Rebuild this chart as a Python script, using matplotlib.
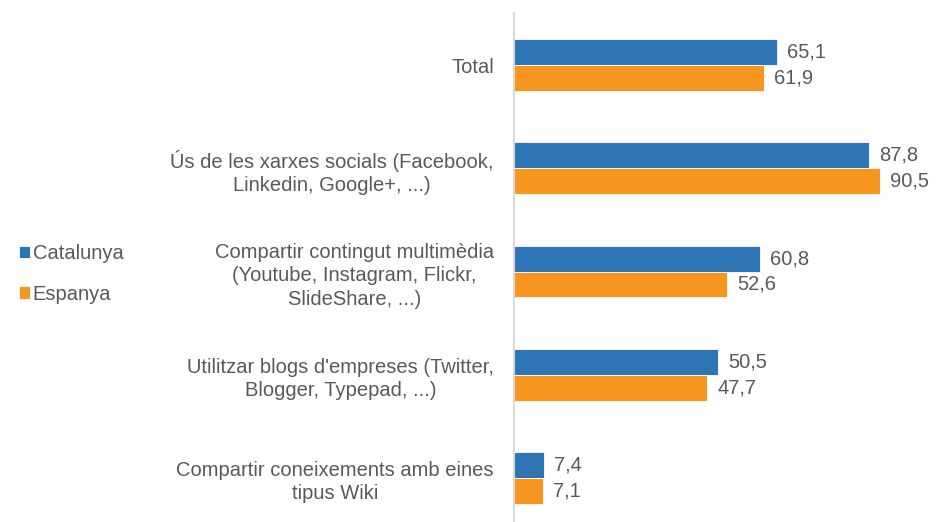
import matplotlib
matplotlib.use("Agg")
import matplotlib.pyplot as plt
import numpy as np

categories = [
    "Total",
    "Ús de les xarxes socials (Facebook,\nLinkedin, Google+, ...)",
    "Compartir contingut multimèdia\n(Youtube, Instagram, Flickr,\nSlideShare, ...)",
    "Utilitzar blogs d'empreses (Twitter,\nBlogger, Typepad, ...)",
    "Compartir coneixements amb eines\ntipus Wiki",
]
catalunya = [65.1, 87.8, 60.8, 50.5, 7.4]
espanya = [61.9, 90.5, 52.6, 47.7, 7.1]
series_names = ["Catalunya", "Espanya"]

BLUE = "#2E75B6"
ORANGE = "#F7961E"
TXT = "#595959"

plt.rcParams['font.family'] = ['Liberation Sans', 'DejaVu Sans']

fig = plt.figure(figsize=(9.38, 5.22), dpi=100)
ax = fig.add_axes([514/938, (522-529.6)/522, 404/938, (529.6-13.4)/522])

y = np.arange(len(categories))
h = 0.25
b1 = ax.barh(y - h/2, catalunya, height=h, color=BLUE, edgecolor='white', linewidth=0.6, label=series_names[0])
b2 = ax.barh(y + h/2, espanya, height=h, color=ORANGE, edgecolor='white', linewidth=0.6, label=series_names[1])

for bars, vals in ((b1, catalunya), (b2, espanya)):
    for rect, v in zip(bars, vals):
        ax.annotate(f"{v:.1f}".replace('.', ','),
                    xy=(rect.get_width(), rect.get_y() + rect.get_height()/2),
                    xytext=(7.5, 0), textcoords='offset points',
                    ha='left', va='center', fontsize=14.5, color=TXT)

ax.set_xlim(0, 100)
ax.set_ylim(len(categories) - 0.5, -0.5)
ax.set_yticks(y)
ax.set_yticklabels(categories, fontsize=14.5, color=TXT, multialignment='center', linespacing=1.3)
ax.tick_params(axis='y', length=0, pad=14.5)
ax.set_xticks([])
for s in ['top', 'right', 'bottom']:
    ax.spines[s].set_visible(False)
ax.spines['left'].set_color('#D9D9D9')
ax.spines['left'].set_linewidth(1.5)

leg = fig.legend(handles=[b1, b2], labels=series_names, loc='center left',
                 bbox_to_anchor=(11/938, 1 - 274/522), frameon=False,
                 fontsize=14.5, handlelength=0.55, handleheight=0.55,
                 handletextpad=0.12, labelspacing=1.05, borderaxespad=0)
for t in leg.get_texts():
    t.set_color(TXT)

fig.savefig("out.png", dpi=100)
